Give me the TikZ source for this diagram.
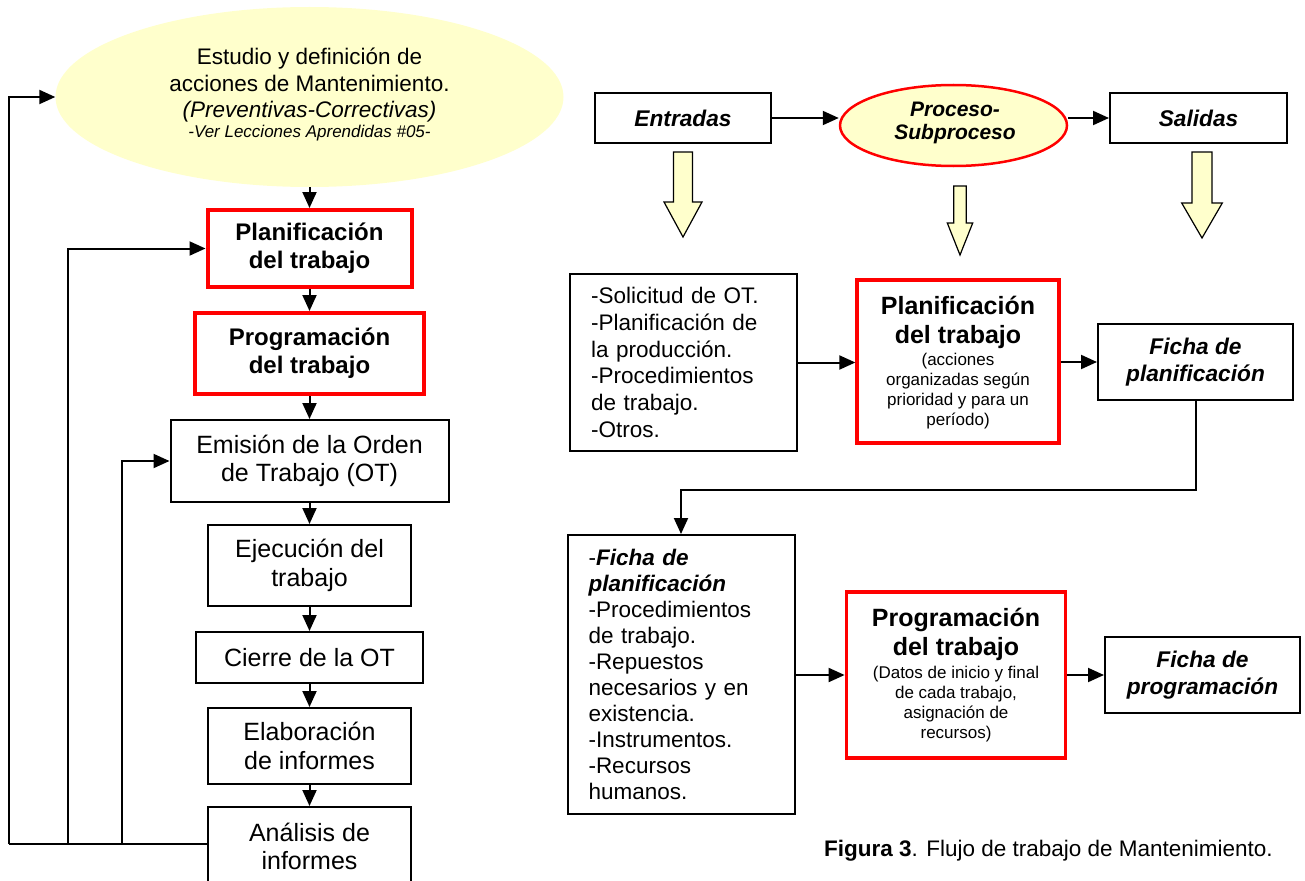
\documentclass[tikz,border=0pt]{standalone}
\usepackage{fontspec}
\setmainfont{Liberation Sans}
\usetikzlibrary{arrows.meta,shapes.geometric}
\definecolor{lyel}{HTML}{FFFFCC}
\definecolor{myred}{HTML}{FF0000}
\newcommand{\fLeft}{\fontsize{25}{28.7}\selectfont}
\newcommand{\fLeftB}{\fontsize{24}{28}\selectfont\bfseries}
\newcommand{\fList}{\fontsize{22.5}{26.8}\selectfont}
\newcommand{\fTitle}{\fontsize{25}{29}\selectfont\bfseries}
\newcommand{\fSmall}{\fontsize{17}{20}\selectfont}
\newcommand{\fBI}{\fontsize{22.7}{27}\selectfont\bfseries\itshape}
\newcommand{\blockarr}[6]{% cx, shaft half, head half, y0, y1, tip
  \draw[blockarrow] ({#1-#2},#4) -- ({#1+#2},#4) -- ({#1+#2},#5) -- ({#1+#3},#5)
   -- (#1,#6) -- ({#1-#3},#5) -- ({#1-#2},#5) -- cycle;}
\begin{document}
\begin{tikzpicture}[x=1pt,y=-1pt,
  bbox/.style={draw=black,line width=2pt,fill=white,inner sep=0pt,align=center},
  lbox/.style={bbox,font=\fLeft},
  rlbox/.style={bbox,draw=myred,line width=4pt,font=\fLeftB},
  rrbox/.style={bbox,draw=myred,line width=3.3pt},
  arr/.style={line width=2pt,-{Triangle[length=16pt,width=14pt]}},
  plain/.style={line width=2pt},
  blockarrow/.style={draw=black,line width=1.2pt,fill=lyel,line join=miter},
  txt/.style={inner sep=0pt,align=center}
]
\useasboundingbox (0,0) rectangle (1305,880);
\clip (0,0) rectangle (1305,880);

% ---------------- left column ----------------
\node[ellipse,fill=lyel,draw=none,minimum width=508,minimum height=180,inner sep=0pt] (ell) at (309.5,97) {};
\node[txt,font=\fontsize{22.5}{26.5}\selectfont] (elltxt) at (309.5,85.5) {Estudio y definición de\\acciones de Mantenimiento.\\\textit{(Preventivas-Correctivas)}};
\node[txt,font=\fontsize{17}{20}\selectfont\itshape] (ellsub) at (309.5,133.5) {-Ver Lecciones Aprendidas \#05-};

\node[rlbox,minimum width=204,minimum height=77] (plan) at (309.5,248.5) {Planificación\\del trabajo};
\node[rlbox,minimum width=229,minimum height=81] (prog) at (309.5,353.5) {Programación\\del trabajo};
\node[lbox,minimum width=278,minimum height=82] (emi) at (309.5,461) {Emisión de la Orden\\de Trabajo (OT)};
\node[lbox,minimum width=203,minimum height=81] (eje) at (309.5,565.5) {Ejecución del\\trabajo};
\node[lbox,minimum width=227,minimum height=51] (cie) at (309.5,657.5) {Cierre de la OT};
\node[lbox,minimum width=203,minimum height=76] (ela) at (309.5,746) {Elaboración\\de informes};
\node[lbox,minimum width=203,minimum height=79] (ana) at (309.5,846.5) {Análisis de\\informes};

\draw[arr] (ell) -- (plan);
\draw[arr] (plan) -- (prog);
\draw[arr] (prog) -- (emi);
\draw[arr] (emi) -- (eje);
\draw[arr] (eje) -- (cie);
\draw[arr] (cie) -- (ela);
\draw[arr] (ela) -- (ana);

\coordinate (fb1) at (9,844);
\coordinate (fb2) at (68,844);
\coordinate (fb3) at (122,844);
\draw[plain] (ana.west |- fb1) -- (fb1);
\draw[arr] (fb1) |- (ell.west);
\draw[arr] (fb2) |- (plan.west);
\draw[arr] (fb3) |- (emi.west);

% ---------------- right: top row ----------------
\node[bbox,minimum width=176,minimum height=50,font=\fBI] (entr) at (683,118) {Entradas};
\node[ellipse,draw=myred,line width=2.5pt,fill=lyel,minimum width=227,minimum height=81,inner sep=0pt] (proc) at (953.5,125.5) {};
\node[txt,font=\fontsize{21}{22.5}\selectfont\bfseries\itshape] (proctxt) at (955,123) {Proceso-\\Subproceso};
\node[bbox,minimum width=177,minimum height=50,font=\fBI] (sal) at (1198.5,118) {Salidas};
\draw[arr] (entr.east) -- (entr.east -| proc.west);
\draw[arr] (sal.west -| proc.east) -- (sal.west);

\blockarr{683}{9.5}{19}{152}{202}{237}
\blockarr{960}{6.3}{12.7}{186}{223}{255}
\blockarr{1202}{10}{20.3}{152}{203}{238}

% ---------------- right: planificación row ----------------
\node[bbox,minimum width=227,minimum height=177,text width=184,align=left,inner xsep=21.5pt,font=\fList] (lst1) at (683,362.5)
  {-Solicitud de OT.\\-Planificación de\\la producción.\\-Procedimientos\\de trabajo.\\-Otros.};
\node[rrbox,minimum width=202,minimum height=163] (plan2) at (958,361.5) {};
\node[txt,font=\fTitle] (plan2t) at (958,322) {Planificación\\del trabajo};
\node[txt,font=\fSmall] (plan2s) at (958,391.5) {(acciones\\organizadas según\\prioridad y para un\\período)};
\node[bbox,minimum width=195,minimum height=76,font=\fBI] (fpl) at (1195.5,362) {Ficha de\\planificación};
\draw[arr] (lst1.east) -- (lst1.east -| plan2.west);
\draw[arr] (plan2.east |- fpl.west) -- (fpl.west);

% ---------------- right: programación row ----------------
\node[bbox,minimum width=227,minimum height=279,text width=185,align=left,inner xsep=21pt,font=\fontsize{22.5}{26.1}\selectfont] (lst2) at (681,674.5)
  {-\textbf{\textit{Ficha de}}\\\textbf{\textit{planificación}}\\-Procedimientos\\de trabajo.\\-Repuestos\\necesarios y en\\existencia.\\-Instrumentos.\\-Recursos\\humanos.};
\node[rrbox,minimum width=219.5,minimum height=166] (prog2) at (956,675) {};
\node[txt,font=\fTitle] (prog2t) at (956,634.5) {Programación\\del trabajo};
\node[txt,font=\fSmall] (prog2s) at (956,704) {(Datos de inicio y final\\de cada trabajo,\\asignación de\\recursos)};
\node[bbox,minimum width=195,minimum height=76,font=\fBI] (fpr) at (1202.5,675) {Ficha de\\programación};
\draw[arr] (lst2.east |- prog2.west) -- (prog2.west);
\draw[arr] (prog2.east) -- (fpr.west);

\draw[arr] (fpl.south) -- ++(0,89) -| (lst2.north);

% caption
\node[inner sep=0pt,anchor=west,font=\fontsize{22.5}{26}\selectfont] (cap) at (824,851) {\textbf{Figura 3}. Flujo de trabajo de Mantenimiento.};
\end{tikzpicture}
\end{document}
